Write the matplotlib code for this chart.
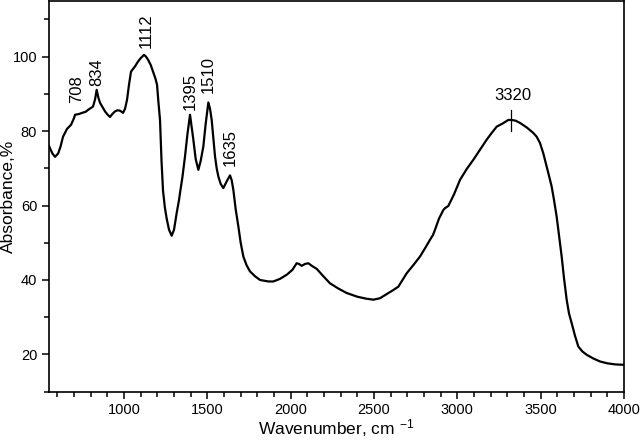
import matplotlib
matplotlib.use("Agg")
import matplotlib.pyplot as plt
from matplotlib.ticker import MultipleLocator

plt.rcParams['font.family'] = ['Liberation Sans', 'DejaVu Sans']
plt.rcParams['mathtext.default'] = 'regular'

wavenumber = [550, 570, 586, 605, 620, 634, 658, 682, 700, 706, 730, 748, 770, 784, 814, 826, 836, 846, 856, 870,
              886, 900, 916, 930, 946, 960, 976, 994, 1006, 1018, 1030, 1042, 1066, 1084, 1100, 1120, 1132, 1144,
              1160, 1174, 1188, 1198, 1206, 1216, 1225, 1234, 1245, 1256, 1270, 1286, 1300, 1316, 1330, 1336,
              1350, 1366, 1380, 1396, 1406, 1416, 1430, 1446, 1460, 1476, 1490, 1506, 1516, 1526, 1536, 1546,
              1556, 1566, 1580, 1596, 1616, 1636, 1646, 1656, 1670, 1686, 1700, 1716, 1735, 1756, 1786, 1816,
              1866, 1896, 1936, 1976, 2010, 2036, 2050, 2066, 2086, 2106, 2130, 2156, 2196, 2236, 2286, 2336,
              2400, 2450, 2496, 2536, 2576, 2616, 2646, 2696, 2736, 2776, 2806, 2836, 2854, 2866, 2890, 2916,
              2926, 2946, 2980, 3016, 3056, 3096, 3136, 3176, 3206, 3236, 3270, 3306, 3326, 3350, 3376, 3416,
              3456, 3476, 3496, 3516, 3536, 3550, 3566, 3580, 3596, 3610, 3626, 3640, 3656, 3670, 3686, 3706,
              3726, 3750, 3776, 3816, 3856, 3900, 3950, 4000]
absorbance = [76.0, 74.0, 73.1, 74.0, 76.0, 78.5, 80.6, 81.7, 83.5, 84.4, 84.6, 84.9, 85.2, 85.7, 86.6, 88.5, 91.1,
              89.0, 87.6, 86.5, 85.3, 84.5, 83.8, 84.6, 85.3, 85.6, 85.5, 84.9, 86.0, 88.4, 92.5, 96.0, 97.4, 98.7,
              99.6, 100.5, 100.0, 99.2, 97.8, 96.0, 94.2, 92.5, 88.0, 83.0, 72.0, 64.0, 59.5, 56.5, 53.5, 51.9,
              53.5, 58.0, 61.5, 63.4, 67.5, 73.2, 79.0, 84.4, 81.0, 77.7, 72.5, 69.6, 72.0, 75.9, 82.0, 87.7, 86.0,
              83.0, 78.0, 73.2, 70.0, 67.8, 65.8, 64.7, 66.5, 68.1, 66.8, 64.2, 59.0, 54.4, 50.0, 46.3, 44.0, 42.3,
              41.0, 40.0, 39.6, 39.6, 40.3, 41.4, 42.7, 44.5, 44.3, 43.8, 44.3, 44.5, 43.7, 43.0, 41.0, 39.1, 37.7,
              36.5, 35.5, 35.0, 34.7, 35.1, 36.2, 37.3, 38.2, 41.8, 44.0, 46.3, 48.5, 50.8, 52.1, 53.5, 56.5, 58.8,
              59.3, 59.9, 63.0, 66.9, 69.8, 72.3, 75.0, 77.7, 79.5, 81.2, 82.0, 83.0, 83.0, 82.8, 82.2, 81.0, 79.5,
              78.5, 76.8, 74.0, 70.5, 68.0, 65.1, 61.5, 57.0, 52.0, 46.3, 40.5, 34.7, 31.0, 28.4, 25.0, 22.1, 20.8,
              19.9, 18.9, 18.1, 17.6, 17.3, 17.2]

peak_labels = ["708", "834", "1112", "1395", "1510", "1635"]
peak_x = [716, 836, 1136, 1396, 1506, 1636]
peak_y = [87.6, 92.0, 102.3, 85.7, 90.2, 70.5]

fig = plt.figure(figsize=(6.4, 4.41), dpi=100)
ax = fig.add_axes([0.0766, 0.112, 0.8984, 0.886])
ax.plot(wavenumber, absorbance, color='black', lw=1.6)

ax.set_xlim(550, 4000)
ax.set_ylim(10, 115)
ax.xaxis.set_major_locator(MultipleLocator(500))
ax.xaxis.set_minor_locator(MultipleLocator(100))
ax.yaxis.set_major_locator(MultipleLocator(20))
ax.yaxis.set_minor_locator(MultipleLocator(10))
ax.tick_params(which='major', direction='out', length=5, width=1.1, labelsize=10.5)
ax.tick_params(which='minor', direction='out', length=3.5, width=1.1)
for s in ax.spines.values():
    s.set_linewidth(1.2)

ax.set_xlabel("Wavenumber, cm $^{-1}$", fontsize=12.5)
ax.set_ylabel("Absorbance,%", fontsize=12.5)
ax.xaxis.set_label_coords(0.5, -0.066)
ax.yaxis.set_label_coords(-0.058, 0.5)

for lab, x, y in zip(peak_labels, peak_x, peak_y):
    ax.text(x, y, lab, rotation=90, ha='center', va='bottom', fontsize=12)

ax.text(3334, 87.5, "3320", ha='center', va='bottom', fontsize=12)
ax.plot([3322, 3322], [79.9, 85.7], color='black', lw=0.9)

fig.savefig("out.png", dpi=100)
